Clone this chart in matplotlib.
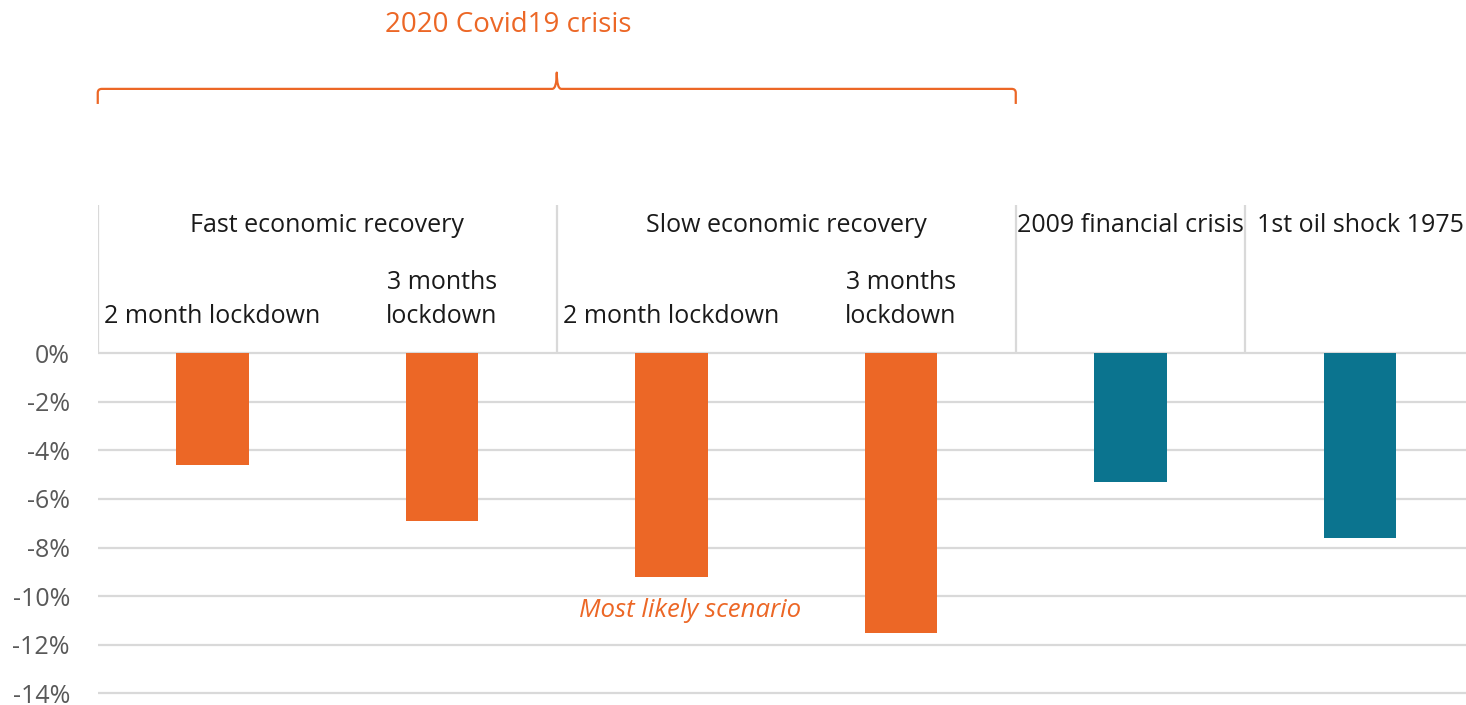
import matplotlib
matplotlib.use("Agg")
import matplotlib.pyplot as plt
from matplotlib.path import Path
from matplotlib.patches import PathPatch
from matplotlib.ticker import FuncFormatter

plt.rcParams['font.family'] = ['Open Sans', 'DejaVu Sans']

# --- data -------------------------------------------------------------
scenarios = ["2 month lockdown", "3 months\nlockdown",
             "2 month lockdown", "3 months\nlockdown",
             "", ""]
gdp_change = [-4.6, -6.9, -9.2, -11.5, -5.3, -7.6]   # % GDP change
is_covid = [True, True, True, True, False, False]

groups = ["Fast economic recovery", "Slow economic recovery",
          "2009 financial crisis", "1st oil shock 1975"]
group_spans = [(0, 1), (2, 3), (4, 4), (5, 5)]        # category index ranges

yticks = list(range(-14, 1, 2))
bracket_title = "2020 Covid19 crisis"
note_text = "Most likely scenario"

# --- style ------------------------------------------------------------
ORANGE = "#EC6726"
TEAL = "#0B748F"
GRID = "#D9D9D9"
TICK = "#595959"
TEXT = "#1A1A1A"

fig = plt.figure(figsize=(14.66, 7.05), dpi=100)
ax = fig.add_axes([0.06668, 0.0062, 0.9393, 0.703])

x = list(range(len(gdp_change)))
colors = [ORANGE if c else TEAL for c in is_covid]
ax.bar(x, gdp_change, width=0.314, color=colors, zorder=3)

ax.set_xlim(-0.5, len(x) - 0.5)
ax.set_ylim(-14.3, 6.1)
ax.set_yticks(yticks)
ax.yaxis.set_major_formatter(FuncFormatter(lambda v, _: f"{v:.0f}%"))
ax.yaxis.grid(True, color=GRID, lw=1.6, zorder=0)
ax.set_axisbelow(True)
ax.set_xticks([])
ax.tick_params(axis='y', length=0, pad=20, labelsize=18, labelcolor=TICK)
for s in ax.spines.values():
    s.set_visible(False)

# header separators above the zero line
sep_x = [group_spans[0][0] - 0.5] + [hi + 0.5 for _, hi in group_spans[:-1]]
ax.vlines(sep_x, 0, 6.1, color=GRID, lw=1.6, zorder=1)

# group headers and scenario labels
for name, (lo, hi) in zip(groups, group_spans):
    ax.text((lo + hi) / 2, 5.0, name, ha='center', va='baseline',
            fontsize=18, color=TEXT)
for xi, lab in zip(x, scenarios):
    if lab:
        ax.text(xi, 1.0, lab, ha='center', va='bottom', fontsize=18,
                color=TEXT, linespacing=1.45, multialignment='center')

# annotation under the slow-recovery bars
ax.text(2.08, -10.86, note_text, ha='center', va='baseline', fontsize=18.5,
        color=ORANGE, style='italic')

# curly bracket spanning the Covid scenarios
x0, x1 = -0.5, 3.5
xm = (x0 + x1) / 2
y_line, y_end, y_tip = 10.88, 10.26, 11.55
rx, ry = 0.0175, 0.165
tw = 0.02
verts = [(x0, y_end), (x0, y_line - ry), (x0, y_line), (x0 + rx, y_line),
         (xm - tw, y_line), (xm, y_line), (xm, y_tip),
         (xm, y_line), (xm + tw, y_line),
         (x1 - rx, y_line), (x1, y_line), (x1, y_line - ry), (x1, y_end)]
codes = [Path.MOVETO, Path.LINETO, Path.CURVE3, Path.CURVE3,
         Path.LINETO, Path.CURVE3, Path.CURVE3,
         Path.CURVE3, Path.CURVE3,
         Path.LINETO, Path.CURVE3, Path.CURVE3, Path.LINETO]
ax.add_patch(PathPatch(Path(verts, codes), fill=False, edgecolor=ORANGE,
                       lw=1.6, clip_on=False, capstyle='butt',
                       joinstyle='round'))
ax.text(1.29, 13.24, bracket_title, ha='center', va='baseline', fontsize=20,
        color=ORANGE, clip_on=False)

fig.savefig("out.png", dpi=100)
